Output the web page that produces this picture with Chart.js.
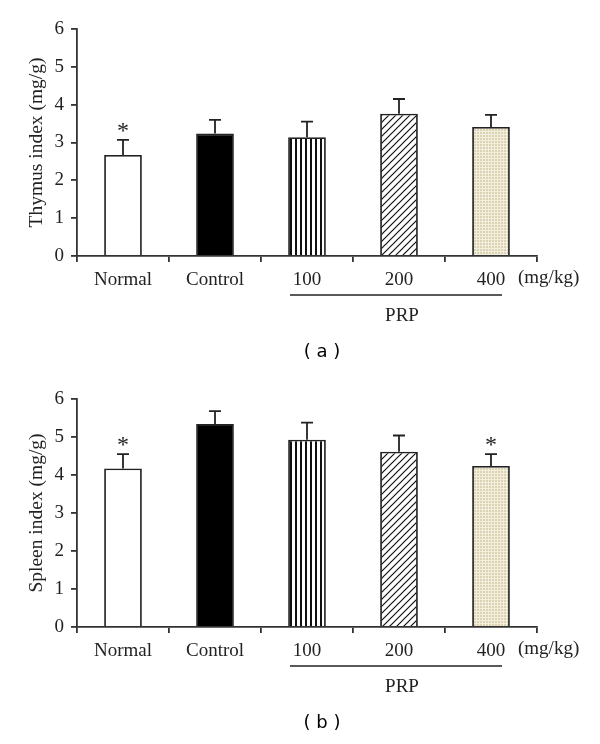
<!DOCTYPE html>
<html>
<head>
<meta charset="utf-8">
<script src="https://cdn.jsdelivr.net/npm/chart.js@4"></script>
<style>
  body { margin: 0; background: #fff; }
  canvas { display: block; }
</style>
</head>
<body>
<canvas id="thymus" width="600" height="372"></canvas>
<canvas id="spleen" width="600" height="372"></canvas>
<script>
const categories = ["Normal", "Control", "100", "200", "400"];
const yTickValues = [0, 1, 2, 3, 4, 5, 6];

const thymusMean = [2.67, 3.24, 3.14, 3.76, 3.41];
const thymusErr = [0.40, 0.36, 0.41, 0.39, 0.32];
const thymusStars = ["*", "", "", "", ""];

const spleenMean = [4.17, 5.34, 4.93, 4.61, 4.24];
const spleenErr = [0.38, 0.34, 0.45, 0.43, 0.31];
const spleenStars = ["*", "", "", "", "*"];

const ink = "#222";
const serif = "'Liberation Serif', 'Times New Roman', serif";

function tile(w, h, draw) {
  const c = document.createElement("canvas");
  c.width = w; c.height = h;
  draw(c.getContext("2d"));
  return c.getContext("2d").createPattern(c, "repeat");
}

const stripes = tile(5, 5, g => {
  g.fillStyle = "#fff"; g.fillRect(0, 0, 5, 5);
  g.fillStyle = "#111"; g.fillRect(0, 0, 2, 5);
});
const hatch = tile(7, 7, g => {
  g.fillStyle = "#fff"; g.fillRect(0, 0, 7, 7);
  g.strokeStyle = "#111"; g.lineWidth = 1.2;
  g.beginPath();
  g.moveTo(-1, 8); g.lineTo(8, -1);
  g.moveTo(-1, 1); g.lineTo(1, -1);
  g.moveTo(6, 8); g.lineTo(8, 6);
  g.stroke();
});
const dots = tile(3, 3, g => {
  g.fillStyle = "#f3efdf"; g.fillRect(0, 0, 3, 3);
  g.fillStyle = "#dcd3b2"; g.fillRect(0, 0, 2, 2);
});
const fills = ["#fff", "#000", stripes, hatch, dots];

const extras = {
  id: "extras",
  afterDatasetsDraw(chart, args, opts) {
    const { ctx, chartArea } = chart;
    const x = chart.scales.x, y = chart.scales.y;
    ctx.save();
    ctx.strokeStyle = ink;
    ctx.fillStyle = ink;
    ctx.lineWidth = 1.8;
    // error bars (upper only) and stars
    opts.mean.forEach((m, i) => {
      const cx = x.getPixelForValue(i);
      const yTop = y.getPixelForValue(m);
      const yErr = y.getPixelForValue(m + opts.err[i]);
      ctx.beginPath();
      ctx.moveTo(cx, yTop);
      ctx.lineTo(cx, yErr);
      ctx.moveTo(cx - 6, yErr);
      ctx.lineTo(cx + 6, yErr);
      ctx.stroke();
      if (opts.stars[i]) {
        ctx.font = "24px " + serif;
        ctx.textAlign = "center";
        ctx.textBaseline = "middle";
        ctx.fillText(opts.stars[i], cx, yErr - 8);
      }
    });
    // unit label
    ctx.font = "19px " + serif;
    ctx.textAlign = "left";
    ctx.textBaseline = "top";
    ctx.fillText("(mg/kg)", chartArea.right - 19, chartArea.bottom + 13);
    // PRP group line
    const ly = chartArea.bottom + 39;
    ctx.lineWidth = 1.6;
    ctx.beginPath();
    ctx.moveTo(x.getPixelForValue(2) - 17, ly);
    ctx.lineTo(x.getPixelForValue(4) + 11, ly);
    ctx.stroke();
    ctx.textAlign = "center";
    ctx.textBaseline = "middle";
    ctx.fillText("PRP", x.getPixelForValue(3) + 3, chartArea.bottom + 60);
    // panel label
    ctx.font = "18px 'DejaVu Sans', sans-serif";
    ctx.fillStyle = "#000";
    ctx.fillText(opts.panel, 322, chartArea.bottom + 96);
    ctx.restore();
  }
};

function makeChart(id, mean, err, stars, yTitle, panel, padTop, axisH) {
  return new Chart(document.getElementById(id), {
    type: "bar",
    data: {
      labels: categories,
      datasets: [{
        data: mean,
        backgroundColor: fills,
        borderColor: ink,
        borderWidth: 1.8,
        categoryPercentage: 1,
        barPercentage: 0.41
      }]
    },
    options: {
      responsive: false,
      animation: false,
      layout: { padding: { left: 0, right: 63, top: padTop, bottom: 0 } },
      plugins: {
        legend: { display: false },
        tooltip: { enabled: false },
        extras: { mean, err, stars, panel }
      },
      scales: {
        x: {
          grid: { drawOnChartArea: false, tickLength: 6, tickColor: "#333", lineWidth: 1.8 },
          border: { color: "#333", width: 1.8 },
          ticks: { color: ink, padding: 7, font: { family: serif, size: 19 } },
          afterFit: s => { s.height = axisH; }
        },
        y: {
          min: 0,
          max: 6,
          afterBuildTicks: s => { s.ticks = yTickValues.map(v => ({ value: v })); },
          grid: { drawOnChartArea: false, tickLength: 6, tickColor: "#333", lineWidth: 1.8 },
          border: { color: "#333", width: 1.8 },
          ticks: { color: ink, padding: 7, font: { family: serif, size: 19 } },
          title: {
            display: true,
            text: yTitle,
            color: ink,
            font: { family: serif, size: 19.5 },
            padding: { top: 25, bottom: 0 }
          },
          afterFit: s => { s.width = 77; }
        }
      }
    },
    plugins: [extras]
  });
}

makeChart("thymus", thymusMean, thymusErr, thymusStars, "Thymus index (mg/g)", "( a )", 29, 116);
makeChart("spleen", spleenMean, spleenErr, spleenStars, "Spleen index (mg/g)", "( b )", 27, 117);
</script>
</body>
</html>
